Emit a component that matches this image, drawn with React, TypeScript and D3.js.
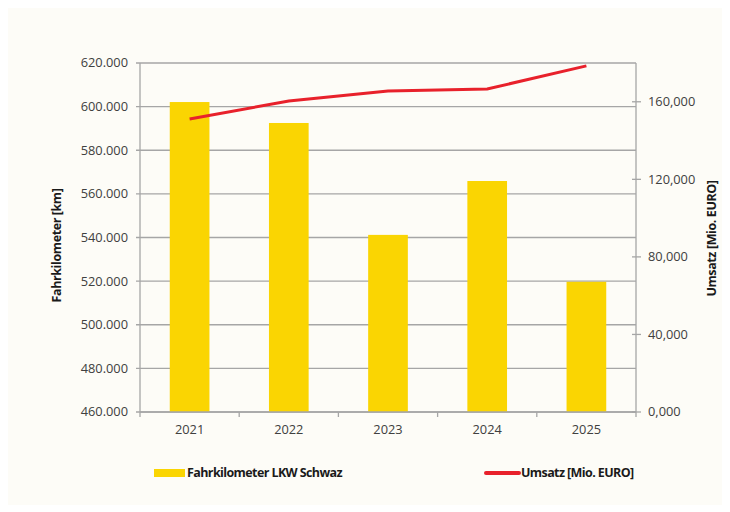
import React from "react";
import * as d3 from "d3";

const years = ["2021", "2022", "2023", "2024", "2025"];
const fahrkilometer = [602100, 592500, 541200, 565900, 519700];
const umsatz = [151100, 160400, 165600, 166600, 178500];
const leftTicks = [460000, 480000, 500000, 520000, 540000, 560000, 580000, 600000, 620000];
const rightTicks = [0, 40000, 80000, 120000, 160000];

const W = 714;
const H = 497;
const M = { left: 132, right: 86, top: 55, bottom: 93 };

const fontFamily = "'Open Sans', 'Noto Sans', sans-serif";
const gridColor = "#a6a6a6";
const labelColor = "#404040";

// left axis uses "." as thousands separator, right axis "," with three decimals
const fmtLeft = (v: number) => d3.format(",.0f")(v / 1000).replace(/,/g, ".") + ".000";
const fmtRight = (v: number) => d3.format(".0f")(v / 1000) + ",000";

export default function App() {
    const x = d3.scaleBand<string>()
        .domain(years)
        .range([M.left, W - M.right])
        .paddingInner(0.6)
        .paddingOuter(0.3);
    const band = d3.scaleBand<string>()
        .domain(years)
        .range([M.left, W - M.right]);
    const yLeft = d3.scaleLinear().domain([460000, 620000]).range([H - M.bottom, M.top]);
    const yRight = d3.scaleLinear().domain([0, 180000]).range([H - M.bottom, M.top]);

    const line = d3.line<number>()
        .x((_, i) => (band(years[i]) ?? 0) + band.bandwidth() / 2)
        .y(d => yRight(d));

    const x0 = M.left;
    const x1 = W - M.right;
    const yb = H - M.bottom;

    return (
        <svg width={W} height={H} style={{ display: "block" }} fontFamily={fontFamily}>
            <rect x={0} y={0} width={W} height={H} fill="#fdfcf7" />

            {leftTicks.map(t => (
                <g key={t}>
                    <line x1={x0 - 4} x2={x1} y1={yLeft(t)} y2={yLeft(t)} stroke={gridColor} strokeWidth={1.3} />
                    <text x={x0 - 12} y={yLeft(t)} dy="0.35em" textAnchor="end" fontSize={12.8} fill={labelColor}>
                        {fmtLeft(t)}
                    </text>
                </g>
            ))}

            {fahrkilometer.map((v, i) => (
                <rect key={years[i]} x={x(years[i])} y={yLeft(v)} width={x.bandwidth()}
                    height={yb - yLeft(v)} fill="#fad502" />
            ))}

            <line x1={x0} x2={x0} y1={M.top} y2={yb} stroke={gridColor} strokeWidth={1.3} />
            <line x1={x1} x2={x1} y1={M.top} y2={yb + 5} stroke={gridColor} strokeWidth={1.3} />
            <line x1={x0} x2={x1} y1={yb} y2={yb} stroke={gridColor} strokeWidth={1.3} />

            {years.map(yr => (
                <g key={yr}>
                    <line x1={band(yr)} x2={band(yr)} y1={yb} y2={yb + 5} stroke={gridColor} strokeWidth={1.3} />
                    <text x={(band(yr) ?? 0) + band.bandwidth() / 2} y={yb + 22} textAnchor="middle"
                        fontSize={12.8} fill={labelColor}>{yr}</text>
                </g>
            ))}

            {rightTicks.map(t => (
                <g key={t}>
                    <line x1={x1 - 4} x2={x1 + 5} y1={yRight(t)} y2={yRight(t)} stroke={gridColor} strokeWidth={1.3} />
                    <text x={x1 + 12} y={yRight(t)} dy="0.35em" textAnchor="start" fontSize={12.8} fill={labelColor}>
                        {fmtRight(t)}
                    </text>
                </g>
            ))}

            <path d={line(umsatz) ?? ""} fill="none" stroke="#e8212b" strokeWidth={3} />

            <text transform={`translate(${53},${(M.top + yb) / 2 + 8}) rotate(-90)`} textAnchor="middle"
                fontSize={12.5} fontWeight="bold" letterSpacing={-0.4} fill="#1a1a1a">
                Fahrkilometer [km]
            </text>
            <text transform={`translate(${708},${(M.top + yb) / 2 + 1}) rotate(-90)`} textAnchor="middle"
                fontSize={12.5} fontWeight="bold" letterSpacing={-0.4} fill="#1a1a1a">
                Umsatz [Mio. EURO]
            </text>

            <rect x={146} y={461} width={31} height={8} fill="#fad502" />
            <text x={179} y={469} fontSize={12.5} fontWeight="bold" letterSpacing={-0.6} fill="#1a1a1a">
                Fahrkilometer LKW Schwaz
            </text>
            <line x1={478} x2={511} y1={465} y2={465} stroke="#e8212b" strokeWidth={4} strokeLinecap="round" />
            <text x={513} y={469} fontSize={12.5} fontWeight="bold" letterSpacing={-0.6} fill="#1a1a1a">
                Umsatz [Mio. EURO]
            </text>
        </svg>
    );
}
